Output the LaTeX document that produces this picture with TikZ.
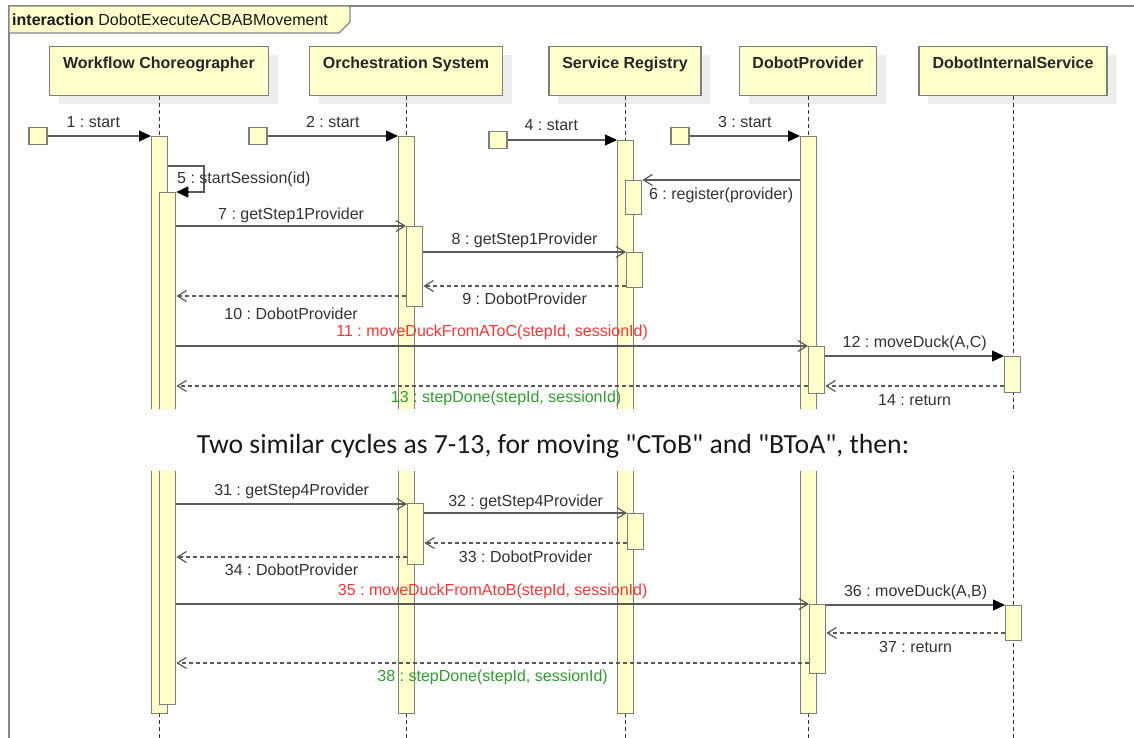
\documentclass[tikz,border=0pt]{standalone}
\usepackage{fontspec}
\setmainfont{Liberation Sans}
\newfontfamily\notefont{Carlito}
\usetikzlibrary{arrows.meta,shadows}
\frenchspacing

\definecolor{umlyellow}{HTML}{FFFFCC}
\definecolor{umlborder}{HTML}{7F7F78}
\definecolor{framegray}{HTML}{858585}
\definecolor{lifegray}{HTML}{333333}
\definecolor{msggray}{HTML}{5A5A5A}
\definecolor{textgray}{HTML}{333333}
\definecolor{msgred}{HTML}{FF3333}
\definecolor{msggreen}{HTML}{2E9E2E}

\tikzset{
  frame/.style={draw=framegray, line width=1.8pt},
  head/.style={draw=umlborder, fill=umlyellow, line width=1.5pt, anchor=north,
    minimum height=49pt, inner ysep=10.5pt, text height=11.5pt, text depth=16.5pt,
    font=\bfseries\fontsize{16}{19}\selectfont, text=black!85,
    drop shadow={shadow xshift=9pt, shadow yshift=-8pt, fill=black!7, opacity=1}},
  lifeline/.style={draw=lifegray, line width=1pt, dash pattern=on 4pt off 3pt},
  actbar/.style={draw=umlborder, fill=umlyellow, line width=1.3pt, anchor=north west,
    minimum width=16pt, inner sep=0pt},
  startbox/.style={draw=umlborder, fill=umlyellow, line width=1.3pt,
    minimum width=18pt, minimum height=17pt, inner sep=0pt},
  call/.style={draw=msggray, line width=1.2pt, -{Straight Barb[length=9pt,width=11pt]}},
  sync/.style={draw=msggray, line width=1.2pt, -{Triangle[length=12pt,width=11pt,color=black]}},
  reply/.style={call, dash pattern=on 4pt off 3pt},
  msg/.style={font=\fontsize{16}{19}\selectfont, text=textgray, inner sep=0pt,
    text height=11.5pt, text depth=3.4pt},
}

\begin{document}
\begin{tikzpicture}[x=1pt, y=-1pt]
  \useasboundingbox (0,0) rectangle (1134,738);

  % frame and its tab
  \draw[frame] (9,738) -- (9,6) -- (1134,6);
  \draw[frame, line width=1.3pt, fill=umlyellow] (9,6) -- (350,6) -- (350,22) -- (339,33) -- (9,33) -- cycle;
  \node[anchor=base west, inner sep=0pt, font=\fontsize{16}{19}\selectfont, text=black!90] (title) at (12,26)
    {\textbf{interaction} DobotExecuteACBABMovement};

  % lifeline heads
  \node[head, minimum width=219pt] (wc) at (159,46) {Workflow Choreographer};
  \node[head, minimum width=193pt] (os) at (406,46) {Orchestration System};
  \node[head, minimum width=152pt] (sr) at (625,46) {Service Registry};
  \node[head, minimum width=137pt] (dp) at (808,46) {DobotProvider};
  \node[head, minimum width=188pt] (dis) at (1013,46) {DobotInternalService};

  \foreach \h in {wc,os,sr,dp,dis}
    \draw[lifeline] (\h.south) -- (\h.south |- 0,738);

  % activations
  \node[actbar, minimum height=577pt] (wcA) at (151,136) {};
  \node[actbar, minimum height=512pt] (wcB) at (159,192) {};
  \node[actbar, minimum height=577pt] (osA) at (398,136) {};
  \node[actbar, minimum height=80pt] (osB) at (406,226) {};
  \node[actbar, minimum height=61pt] (osC) at (407,503) {};
  \node[actbar, minimum height=573pt] (srA) at (617,140) {};
  \node[actbar, minimum height=34pt] (srB) at (625,180) {};
  \node[actbar, minimum height=35pt] (srC) at (626,252) {};
  \node[actbar, minimum height=36pt] (srD) at (627,513) {};
  \node[actbar, minimum height=577pt] (dpA) at (800,136) {};
  \node[actbar, minimum height=47pt] (dpB) at (808,346) {};
  \node[actbar, minimum height=69pt] (dpC) at (809,604) {};
  \node[actbar, minimum height=36pt] (disA) at (1004,356) {};
  \node[actbar, minimum height=35pt] (disB) at (1005,605) {};

  % found messages
  \node[startbox] (st1) at (38,136) {};
  \node[startbox] (st2) at (258,136) {};
  \node[startbox] (st4) at (498,140) {};
  \node[startbox] (st3) at (680,136) {};
  \draw[sync] (st1.east) -- node[msg, above=4.6pt, xshift=-6pt] {1 : start} (wcA.west |- st1);
  \draw[sync] (st2.east) -- node[msg, above=4.6pt] {2 : start} (osA.west |- st2);
  \draw[sync] (st3.east) -- node[msg, above=4.6pt] {3 : start} (dpA.west |- st3);
  \draw[sync] (st4.east) -- node[msg, above=5.6pt, xshift=-11pt] {4 : start} (srA.west |- st4);

  \draw[sync] (wcA.east |- 0,166) -- (204,166) -- (204,192) -- (wcB.east |- 0,192);
  \node[msg, anchor=base west] (l5) at (177,184) {5 : startSession(id)};
  \draw[call] (dpA.west |- 0,180) -- node[msg, below=7pt] {6 : register(provider)} (srB.east |- 0,180);

  % first cycle
  \draw[call] (wcB.east |- 0,226) -- node[msg, above=3pt] {7 : getStep1Provider} (osB.west |- 0,226);
  \draw[call] (osB.east |- 0,252) -- node[msg, above=3.6pt] {8 : getStep1Provider} (srC.west |- 0,252);
  \draw[reply] (srC.west |- 0,286) -- node[msg, below=6pt] {9 : DobotProvider} (osB.east |- 0,286);
  \draw[reply] (osB.west |- 0,296) -- node[msg, below=11pt] {10 : DobotProvider} (wcB.east |- 0,296);
  \draw[call] (wcB.east |- 0,346) -- node[msg, above=5.6pt, text=msgred] {11 : moveDuckFromAToC(stepId, sessionId)} (dpB.west |- 0,346);
  \draw[sync] (dpB.east |- 0,356) -- node[msg, above=4.6pt] {12 : moveDuck(A,C)} (disA.west |- 0,356);
  \draw[reply] (disA.west |- 0,386) -- node[msg, below=7pt] {14 : return} (dpB.east |- 0,386);
  \draw[reply] (dpB.west |- 0,386) -- node[msg, below=4pt, xshift=14pt, text=msggreen] {13 : stepDone(stepId, sessionId)} (wcB.east |- 0,386);

  % last cycle
  \draw[call] (wcB.east |- 0,504) -- node[msg, above=4.6pt] {31 : getStep4Provider} (osC.west |- 0,504);
  \draw[call] (osC.east |- 0,513) -- node[msg, above=2.6pt] {32 : getStep4Provider} (srD.west |- 0,513);
  \draw[reply] (srD.west |- 0,543) -- node[msg, below=7pt] {33 : DobotProvider} (osC.east |- 0,543);
  \draw[reply] (osC.west |- 0,557) -- node[msg, below=6pt] {34 : DobotProvider} (wcB.east |- 0,557);
  \draw[call] (wcB.east |- 0,604) -- node[msg, above=4.6pt, text=msgred] {35 : moveDuckFromAtoB(stepId, sessionId)} (dpC.west |- 0,604);
  \draw[sync] (dpC.east |- 0,605) -- node[msg, above=4.6pt] {36 : moveDuck(A,B)} (disB.west |- 0,605);
  \draw[reply] (disB.west |- 0,633) -- node[msg, below=7pt] {37 : return} (dpC.east |- 0,633);
  \draw[reply] (dpC.west |- 0,663) -- node[msg, below=6pt, text=msggreen] {38 : stepDone(stepId, sessionId)} (wcB.east |- 0,663);

  % cut between the cycles
  \fill[white] (11,409) rectangle (1134,471);
  \node[anchor=base, inner sep=0pt, text=black!90, font=\notefont\fontsize{27.7}{33}\selectfont] (note) at (553,453)
    {Two similar cycles as 7-13, for moving "CToB" and "BToA", then:};
\end{tikzpicture}
\end{document}
